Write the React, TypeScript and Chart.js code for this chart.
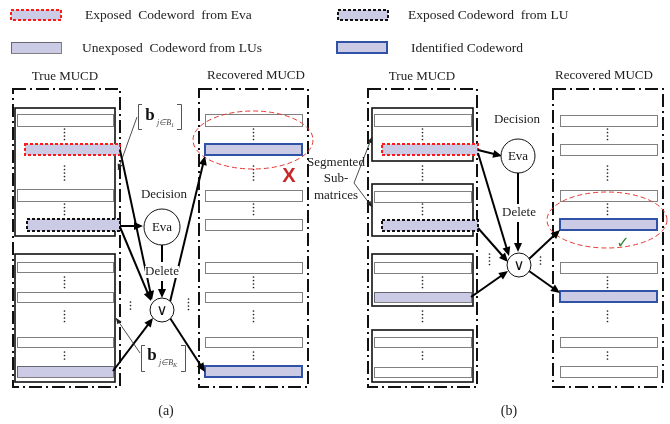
import { useEffect, useRef } from 'react';
import { Chart, registerables } from 'chart.js';
Chart.register(...registerables);

const W = 670;
const H = 424;
const SERIF = '"Liberation Serif", "Times New Roman", serif';

// legend swatches: [kind, x1, y1, x2, y2]
const legendSwatches: [string, number, number, number, number][] = [
  ['eva', 11, 10, 61, 20],
  ['un', 11, 42, 61, 53],
  ['lu', 338, 10, 388, 20],
  ['id', 337, 42, 387, 53],
];
const legendTexts: [string, number, number][] = [
  ['Exposed  Codeword  from Eva', 85, 15],
  ['Unexposed  Codeword from LUs', 82, 48],
  ['Exposed Codeword  from LU', 408, 15],
  ['Identified Codeword', 411, 48],
];

// codewords: [x1, x2, yTop, yBottom, kind]
const codewordsA_true: [number, number, number, number, string][] = [
  [17, 113, 114, 126, 'empty'], [25, 120, 144, 155, 'eva'], [17, 113, 189, 201, 'empty'], [27, 120, 219, 231, 'lu'],
  [17, 113, 262, 272, 'empty'], [17, 113, 292, 302, 'empty'], [17, 113, 337, 347, 'empty'], [17, 113, 366, 377, 'un'],
];
const codewordsA_rec: [number, number, number, number, string][] = [
  [205, 302, 114, 126, 'empty'], [205, 302, 144, 155, 'id'], [205, 302, 190, 201, 'empty'], [205, 302, 219, 230, 'empty'],
  [205, 302, 262, 273, 'empty'], [205, 302, 292, 302, 'empty'], [205, 302, 337, 347, 'empty'], [205, 302, 366, 377, 'id'],
];
const codewordsB_true: [number, number, number, number, string][] = [
  [374, 471, 114, 126, 'empty'], [382, 478, 144, 155, 'eva'], [374, 471, 191, 202, 'empty'], [382, 478, 220, 231, 'lu'],
  [374, 471, 262, 273, 'empty'], [374, 471, 292, 302, 'un'], [374, 471, 337, 347, 'empty'], [374, 471, 367, 377, 'empty'],
];
const codewordsB_rec: [number, number, number, number, string][] = [
  [560, 657, 115, 126, 'empty'], [560, 657, 144, 155, 'empty'], [560, 657, 190, 201, 'empty'], [560, 657, 219, 230, 'id'],
  [560, 657, 262, 273, 'empty'], [560, 657, 291, 302, 'id'], [560, 657, 337, 347, 'empty'], [560, 657, 366, 377, 'empty'],
];

// solid sub-matrix boxes: [x1, y1, x2, y2]
const solidBoxes: [number, number, number, number][] = [
  [15, 108, 115, 236], [15, 254, 115, 382],
  [372, 108, 473, 161], [372, 184, 473, 236], [372, 254, 473, 306], [372, 330, 473, 382],
];
// dash-dot MUCD frames
const mucdFrames: [number, number, number, number][] = [
  [13, 89, 120, 387], [199, 89, 308, 387], [368, 89, 477, 387], [553, 89, 663, 387],
];
// vertical dot runs: [x, y1, y2]
const dotRuns: [number, number, number][] = [
  [64, 129, 140], [64, 166, 180], [64, 204, 215], [64, 277, 288], [64, 311, 324], [64, 352, 362],
  [253, 129, 140], [253, 166, 180], [253, 204, 215], [253, 277, 288], [253, 311, 324], [253, 352, 362],
  [422, 129, 140], [422, 166, 180], [422, 204, 215], [422, 277, 288], [422, 311, 324], [422, 352, 362],
  [607, 129, 141], [607, 166, 180], [607, 204, 215], [607, 277, 288], [607, 311, 324], [607, 352, 362],
  [130, 302, 312], [188, 299, 312], [489, 254, 265], [540, 257, 265],
];
// thick arrows: [x1, y1, x2, y2, head]
const thickArrows: [number, number, number, number, number][] = [
  [120, 226, 143, 226, 1], [120, 150, 152, 300, 1], [120, 227, 151, 301, 1], [113, 371, 153, 318, 1],
  [162, 245, 162, 262, 0], [162, 281, 162, 298, 1], [170, 302, 205, 156, 1], [170, 318, 205, 372, 1],
  [478, 150, 502, 156, 1], [478, 153, 509, 256, 1], [478, 228, 508, 262, 1], [471, 297, 508, 271, 1],
  [518, 173, 518, 204, 0], [518, 222, 518, 252, 1], [529, 259, 560, 230, 1], [529, 271, 560, 293, 1],
];
// thin annotation arrows
const thinArrows: [number, number, number, number][] = [
  [137, 117, 118, 170], [140, 353, 116, 318], [354, 183, 372, 137], [354, 183, 372, 207],
];
// circles: [cx, cy, r, label]
const nodes: [number, number, number, string][] = [
  [162, 227, 18, 'Eva'], [162, 310, 12, '\u2228'], [518, 156, 17, 'Eva'], [519, 265, 12, '\u2228'],
];
// ellipses: [cx, cy, rx, ry]
const ellipses: [number, number, number, number][] = [
  [253, 140, 60, 29], [607, 220, 60, 28],
];
// text labels: [text, x, y, size]
const labels: [string, number, number, number][] = [
  ['True MUCD', 65, 77, 13], ['Recovered MUCD', 256, 76, 13], ['True MUCD', 422, 77, 13], ['Recovered MUCD', 604, 76, 13],
  ['Decision', 164, 195, 13], ['Delete', 162, 272, 13], ['Decision', 517, 120, 13], ['Delete', 519, 213, 13],
  ['Segmented', 336, 163, 13], ['Sub-', 336, 179, 13], ['matrices', 336, 196, 13],
  ['(a)', 166, 411, 14], ['(b)', 509, 411, 14],
];
// brackets: [xLeft, xRight, y1, y2, bx, by, sub, subSub]
const brackets: [number, number, number, number, number, number, string, string][] = [
  [138, 181, 104, 129, 150, 116, 'j\u2208B', '1'],
  [141, 185, 345, 371, 152, 356, 'j\u2208B', 'K'],
];

const LAV = '#cbcbe6';

function drawArrowHead(ctx: CanvasRenderingContext2D, x1: number, y1: number, x2: number, y2: number, len: number, wid: number) {
  const a = Math.atan2(y2 - y1, x2 - x1);
  ctx.beginPath();
  ctx.moveTo(x2, y2);
  ctx.lineTo(x2 - len * Math.cos(a) + wid * Math.sin(a), y2 - len * Math.sin(a) - wid * Math.cos(a));
  ctx.lineTo(x2 - len * Math.cos(a) - wid * Math.sin(a), y2 - len * Math.sin(a) + wid * Math.cos(a));
  ctx.closePath();
  ctx.fill();
}

const diagramPlugin = {
  id: 'diagram',
  beforeDraw(chart: any) {
    const ctx = chart.ctx;
    ctx.save();
    ctx.fillStyle = '#fff';
    ctx.fillRect(0, 0, chart.width, chart.height);
    ctx.restore();
  },
  afterDatasetsDraw(chart: any) {
    const ctx: CanvasRenderingContext2D = chart.ctx;
    const xs = chart.scales.x;
    const ys = chart.scales.y;
    const X = (v: number) => xs.getPixelForValue(v);
    const Y = (v: number) => ys.getPixelForValue(v);
    ctx.save();

    const codeword = (x1: number, x2: number, y1: number, y2: number, kind: string) => {
      const px = X(x1), py = Y(y1), pw = X(x2) - X(x1), ph = Y(y2) - Y(y1);
      ctx.fillStyle = kind === 'empty' ? '#fff' : LAV;
      ctx.fillRect(px, py, pw, ph);
      ctx.setLineDash([]);
      if (kind === 'empty' || kind === 'un') {
        ctx.strokeStyle = '#000';
        ctx.lineWidth = 1;
        ctx.setLineDash([1, 1]);
        ctx.strokeRect(Math.round(px) + 0.5, Math.round(py) + 0.5, Math.round(pw), Math.round(ph));
      } else if (kind === 'eva') {
        ctx.strokeStyle = '#ff1a1a';
        ctx.lineWidth = 2;
        ctx.setLineDash([3, 2]);
        ctx.strokeRect(px, py, pw, ph);
      } else if (kind === 'lu') {
        ctx.strokeStyle = '#111';
        ctx.lineWidth = 2;
        ctx.setLineDash([3, 2]);
        ctx.strokeRect(px, py, pw, ph);
      } else if (kind === 'id') {
        ctx.strokeStyle = '#2f52a6';
        ctx.lineWidth = 2;
        ctx.strokeRect(px, py, pw, ph);
      }
      ctx.setLineDash([]);
    };

    // frames
    ctx.strokeStyle = '#111';
    ctx.lineWidth = 2;
    ctx.setLineDash([13, 4, 2, 4]);
    for (const [x1, y1, x2, y2] of mucdFrames) {
      ctx.strokeRect(X(x1), Y(y1), X(x2) - X(x1), Y(y2) - Y(y1));
    }
    ctx.setLineDash([]);
    ctx.lineWidth = 1.6;
    for (const [x1, y1, x2, y2] of solidBoxes) {
      ctx.strokeRect(X(x1), Y(y1), X(x2) - X(x1), Y(y2) - Y(y1));
    }

    for (const list of [codewordsA_true, codewordsA_rec, codewordsB_true, codewordsB_rec]) {
      for (const [x1, x2, y1, y2, k] of list) codeword(x1, x2, y1, y2, k);
    }
    for (const [k, x1, y1, x2, y2] of legendSwatches) codeword(x1, x2, y1, y2, k);

    // dots
    ctx.fillStyle = '#222';
    for (const [x, y1, y2] of dotRuns) {
      for (let y = Y(y1); y <= Y(y2); y += 3.5) {
        ctx.beginPath();
        ctx.arc(X(x) + 0.5, y, 0.85, 0, Math.PI * 2);
        ctx.fill();
      }
    }

    // ellipses
    ctx.strokeStyle = '#e53935';
    ctx.lineWidth = 1;
    ctx.setLineDash([5, 3]);
    for (const [cx, cy, rx, ry] of ellipses) {
      ctx.beginPath();
      ctx.ellipse(X(cx), Y(cy), X(cx + rx) - X(cx), Y(cy + ry) - Y(cy), 0, 0, Math.PI * 2);
      ctx.stroke();
    }
    ctx.setLineDash([]);

    // thick arrows
    ctx.strokeStyle = '#000';
    ctx.fillStyle = '#000';
    ctx.lineWidth = 2;
    for (const [x1, y1, x2, y2, h] of thickArrows) {
      const a = Math.atan2(Y(y2) - Y(y1), X(x2) - X(x1));
      const ex = h ? X(x2) - 6 * Math.cos(a) : X(x2);
      const ey = h ? Y(y2) - 6 * Math.sin(a) : Y(y2);
      ctx.beginPath();
      ctx.moveTo(X(x1), Y(y1));
      ctx.lineTo(ex, ey);
      ctx.stroke();
      if (h) drawArrowHead(ctx, X(x1), Y(y1), X(x2), Y(y2), 9, 4);
    }
    ctx.lineWidth = 0.8;
    ctx.strokeStyle = '#222';
    ctx.fillStyle = '#222';
    for (const [x1, y1, x2, y2] of thinArrows) {
      ctx.beginPath();
      ctx.moveTo(X(x1), Y(y1));
      ctx.lineTo(X(x2), Y(y2));
      ctx.stroke();
      drawArrowHead(ctx, X(x1), Y(y1), X(x2), Y(y2), 6, 2.5);
    }

    // nodes
    for (const [cx, cy, r, t] of nodes) {
      ctx.beginPath();
      ctx.arc(X(cx), Y(cy), r, 0, Math.PI * 2);
      ctx.fillStyle = '#fff';
      ctx.fill();
      ctx.strokeStyle = '#111';
      ctx.lineWidth = 1;
      ctx.stroke();
      ctx.fillStyle = '#111';
      ctx.textAlign = 'center';
      ctx.textBaseline = 'middle';
      ctx.font = t === 'Eva' ? `13px ${SERIF}` : `15px "DejaVu Sans", sans-serif`;
      ctx.fillText(t, X(cx), Y(cy) + 1);
    }

    // labels
    ctx.fillStyle = '#222';
    ctx.textAlign = 'center';
    ctx.textBaseline = 'middle';
    for (const [t, x, y, s] of labels) {
      ctx.font = `${s}px ${SERIF}`;
      if (t === 'Delete') {
        ctx.fillStyle = '#fff';
        const w = ctx.measureText(t).width;
        ctx.fillRect(X(x) - w / 2, Y(y) - 6, w, 12);
        ctx.fillStyle = '#222';
      }
      ctx.fillText(t, X(x), Y(y));
    }
    ctx.textAlign = 'left';
    ctx.font = `13.5px ${SERIF}`;
    for (const [t, x, y] of legendTexts) ctx.fillText(t, X(x), Y(y));

    // brackets
    ctx.strokeStyle = '#555';
    ctx.lineWidth = 1;
    for (const [xl, xr, y1, y2, bx, by, sub, subsub] of brackets) {
      ctx.beginPath();
      ctx.moveTo(X(xl) + 4, Y(y1) + 0.5);
      ctx.lineTo(X(xl) + 0.5, Y(y1) + 0.5);
      ctx.lineTo(X(xl) + 0.5, Y(y2) + 0.5);
      ctx.lineTo(X(xl) + 4, Y(y2) + 0.5);
      ctx.moveTo(X(xr) - 4, Y(y1) + 0.5);
      ctx.lineTo(X(xr) + 0.5, Y(y1) + 0.5);
      ctx.lineTo(X(xr) + 0.5, Y(y2) + 0.5);
      ctx.lineTo(X(xr) - 4, Y(y2) + 0.5);
      ctx.stroke();
      ctx.fillStyle = '#111';
      ctx.textAlign = 'center';
      ctx.textBaseline = 'middle';
      ctx.font = `bold 17px ${SERIF}`;
      ctx.fillText('b', X(bx), Y(by));
      ctx.textAlign = 'left';
      ctx.font = `italic 8px ${SERIF}`;
      ctx.fillStyle = '#444';
      ctx.fillText(sub, X(bx) + 7, Y(by) + 7);
      const sw = ctx.measureText(sub).width;
      ctx.font = `italic 6px ${SERIF}`;
      ctx.fillText(subsub, X(bx) + 7 + sw, Y(by) + 9);
    }

    // marks
    ctx.textAlign = 'center';
    ctx.textBaseline = 'middle';
    ctx.fillStyle = '#c62828';
    ctx.font = `bold 20px "Liberation Sans", sans-serif`;
    ctx.fillText('X', X(289), Y(176));
    ctx.fillStyle = '#2e8b3a';
    ctx.font = `bold 16px "DejaVu Sans", sans-serif`;
    ctx.fillText('\u2713', X(623), Y(244));

    ctx.restore();
  },
};

export default function App() {
  const ref = useRef<HTMLCanvasElement | null>(null);
  useEffect(() => {
    document.body.style.margin = '0';
    document.body.style.overflow = 'hidden';
    const canvas = ref.current;
    if (!canvas) return;
    const chart = new Chart(canvas, {
      type: 'scatter',
      data: { datasets: [{ data: [], pointRadius: 0 }] },
      options: {
        animation: false,
        responsive: false,
        devicePixelRatio: 1,
        layout: { padding: 0 },
        plugins: { legend: { display: false }, tooltip: { enabled: false } },
        scales: {
          x: { type: 'linear', min: 0, max: W, display: false },
          y: { type: 'linear', min: 0, max: H, reverse: true, display: false },
        },
      },
      plugins: [diagramPlugin],
    });
    return () => chart.destroy();
  }, []);
  return <canvas ref={ref} width={W} height={H} style={{ display: 'block', width: W, height: H }} />;
}
